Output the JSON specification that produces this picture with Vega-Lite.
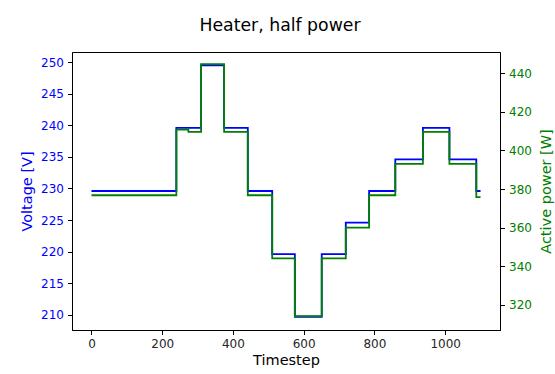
{
  "$schema": "https://vega.github.io/schema/vega-lite/v6.json",
  "width": 428,
  "height": 278,
  "autosize": {"type": "none"},
  "padding": {"left": 72, "top": 52, "right": 55, "bottom": 44},
  "background": "white",
  "config": {
    "view": {"stroke": "black", "strokeWidth": 1},
    "font": "DejaVu Sans",
    "axis": {
      "grid": false,
      "domainColor": "black",
      "tickColor": "black",
      "tickSize": 4.5,
      "labelFont": "DejaVu Sans",
      "titleFont": "DejaVu Sans",
      "labelFontSize": 12,
      "titleFontSize": 14.5,
      "titleFontWeight": "normal",
      "labelPadding": 4
    }
  },
  "title": {
    "text": "Heater, half power",
    "font": "DejaVu Sans",
    "fontSize": 17.3,
    "fontWeight": "normal",
    "color": "black",
    "anchor": "middle",
    "frame": "group",
    "offset": 18,
    "dx": -6
  },
  "data": {
    "values": [
      {"t": 0, "v": 229.6, "p": 376.8},
      {"t": 240, "v": 239.6, "p": 410.8},
      {"t": 274, "v": 239.6, "p": 409.6},
      {"t": 310, "v": 249.5, "p": 444.7},
      {"t": 375, "v": 239.6, "p": 409.6},
      {"t": 442, "v": 229.6, "p": 376.8},
      {"t": 511, "v": 219.6, "p": 344.1},
      {"t": 575, "v": 209.7, "p": 314.2},
      {"t": 651, "v": 219.6, "p": 344.1},
      {"t": 719, "v": 224.6, "p": 360.0},
      {"t": 785, "v": 229.6, "p": 376.8},
      {"t": 859, "v": 234.6, "p": 393.0},
      {"t": 937, "v": 239.6, "p": 409.6},
      {"t": 1012, "v": 234.6, "p": 393.0},
      {"t": 1088, "v": 229.6, "p": 375.8},
      {"t": 1100, "v": 229.6, "p": 375.8}
    ]
  },
  "encoding": {
    "x": {
      "field": "t",
      "type": "quantitative",
      "scale": {"domain": [-55, 1155], "nice": false, "zero": false},
      "axis": {"title": "Timestep", "format": "d", "values": [0, 200, 400, 600, 800, 1000], "labelColor": "#262626", "titleColor": "black", "titlePadding": 4, "labelFlush": false}
    }
  },
  "layer": [
    {
      "mark": {"type": "line", "interpolate": "step-after", "color": "blue", "strokeWidth": 1.8, "clip": true},
      "encoding": {
        "y": {
          "field": "v",
          "type": "quantitative",
          "scale": {"domain": [207.6, 251.6], "nice": false, "zero": false},
          "axis": {"title": "Voltage [V]", "orient": "left", "format": "d", "values": [210, 215, 220, 225, 230, 235, 240, 245, 250], "labelColor": "blue", "titleColor": "blue", "titlePadding": 6, "labelFlush": false}
        }
      }
    },
    {
      "mark": {"type": "line", "interpolate": "step-after", "color": "green", "strokeWidth": 1.8, "clip": true},
      "encoding": {
        "y": {
          "field": "p",
          "type": "quantitative",
          "scale": {"domain": [307.0, 451.0], "nice": false, "zero": false},
          "axis": {"title": "Active power [W]", "orient": "right", "format": "d", "values": [320, 340, 360, 380, 400, 420, 440], "labelColor": "green", "titleColor": "green", "titleAngle": 270, "titleBaseline": "top", "titlePadding": 8, "labelFlush": false}
        }
      }
    }
  ],
  "resolve": {"scale": {"y": "independent"}}
}
